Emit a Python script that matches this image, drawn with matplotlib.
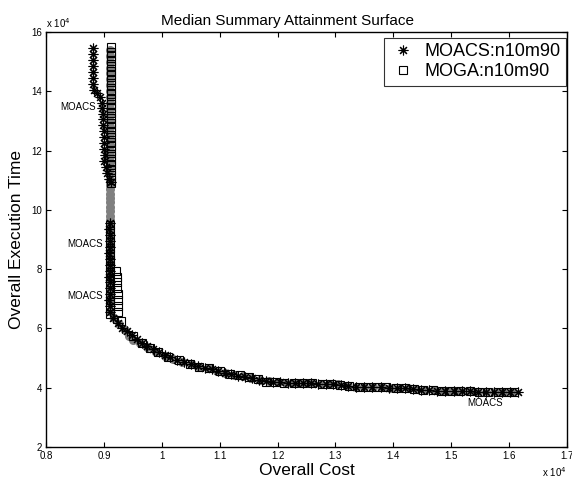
import matplotlib
matplotlib.use("Agg")
import matplotlib.pyplot as plt
import numpy as np

plt.rcParams['font.family'] = ['Liberation Sans', 'DejaVu Sans']

# values, in units of 1e4
moacs_x = [0.882, 0.881, 0.882, 0.881, 0.882, 0.881, 0.882, 0.883,
           0.888, 0.893, 0.896,
           0.897, 0.898, 0.899, 0.899, 0.900, 0.900, 0.901, 0.901, 0.902, 0.901, 0.903, 0.905, 0.908, 0.912,
           0.910, 0.909, 0.910, 0.911, 0.910, 0.909, 0.910, 0.911, 0.910, 0.909, 0.910, 0.911, 0.910, 0.909, 0.910, 0.911,
           0.915, 0.924, 0.932, 0.940, 0.948, 0.957, 0.966, 0.975, 0.985, 0.995, 1.005, 1.015, 1.027, 1.038,
           1.050, 1.062, 1.074, 1.086, 1.097, 1.109, 1.120, 1.132, 1.144, 1.156, 1.168, 1.180, 1.192, 1.205,
           1.218, 1.231, 1.244, 1.257, 1.270, 1.283, 1.296, 1.309, 1.322, 1.336, 1.350, 1.364, 1.378, 1.392,
           1.406, 1.420, 1.434, 1.448, 1.462, 1.476, 1.490, 1.504, 1.518, 1.532, 1.546, 1.560, 1.574, 1.588,
           1.602, 1.615]
moacs_y = [15.45, 15.25, 15.05, 14.85, 14.65, 14.45, 14.25, 14.05,
           13.95, 13.80, 13.60,
           13.45, 13.25, 13.05, 12.85, 12.65, 12.45, 12.25, 12.05, 11.85, 11.65, 11.45, 11.25, 11.05, 10.95,
           9.55, 9.35, 9.15, 8.95, 8.75, 8.55, 8.35, 8.15, 7.95, 7.75, 7.55, 7.35, 7.15, 6.95, 6.75, 6.55,
           6.35, 6.20, 6.02, 5.90, 5.78, 5.65, 5.52, 5.42, 5.32, 5.20, 5.10, 5.02, 4.95, 4.88,
           4.80, 4.72, 4.68, 4.64, 4.56, 4.50, 4.45, 4.41, 4.37, 4.32, 4.27, 4.22, 4.20, 4.18,
           4.17, 4.16, 4.15, 4.15, 4.14, 4.13, 4.12, 4.10, 4.05, 4.04, 4.03, 4.02, 4.01, 4.00,
           3.99, 3.98, 3.96, 3.92, 3.91, 3.90, 3.90, 3.89, 3.88, 3.88, 3.87, 3.86, 3.86, 3.85,
           3.85, 3.84]

moga_x = [0.912, 0.912, 0.912, 0.912, 0.912, 0.912, 0.912, 0.912, 0.912, 0.912,
          0.912, 0.912, 0.912, 0.912, 0.912, 0.912, 0.912, 0.912, 0.912, 0.912,
          0.912, 0.912, 0.912, 0.912, 0.912, 0.912, 0.912, 0.912, 0.912, 0.912,
          0.910, 0.910, 0.910, 0.910, 0.910, 0.910, 0.910, 0.910, 0.910, 0.910, 0.910, 0.910, 0.910, 0.910, 0.910, 0.910,
          0.921, 0.922, 0.922, 0.923, 0.924, 0.924, 0.924, 0.924,
          0.930, 0.950, 0.966, 0.980, 0.994, 1.010, 1.030, 1.048, 1.064, 1.082, 1.100, 1.118, 1.135, 1.150,
          1.166, 1.180, 1.196, 1.212, 1.228, 1.244, 1.260, 1.276, 1.292, 1.308, 1.324, 1.340, 1.356, 1.372,
          1.388, 1.404, 1.420, 1.436, 1.452, 1.468, 1.484, 1.500, 1.516, 1.532, 1.548, 1.564, 1.580, 1.596,
          1.608]
moga_y = [15.50, 15.34, 15.18, 15.02, 14.86, 14.70, 14.54, 14.38, 14.22, 14.06,
          13.90, 13.74, 13.58, 13.42, 13.26, 13.10, 12.94, 12.78, 12.62, 12.46,
          12.30, 12.14, 11.98, 11.82, 11.66, 11.50, 11.34, 11.18, 11.02, 10.90,
          9.50, 9.30, 9.10, 8.90, 8.70, 8.50, 8.30, 8.10, 7.90, 7.70, 7.50, 7.30, 7.10, 6.90, 6.70, 6.50,
          7.95, 7.75, 7.55, 7.35, 7.15, 6.95, 6.75, 6.55,
          6.25, 5.75, 5.50, 5.35, 5.20, 5.02, 4.95, 4.80, 4.70, 4.66, 4.55, 4.47, 4.42, 4.36,
          4.30, 4.20, 4.18, 4.17, 4.16, 4.15, 4.15, 4.14, 4.13, 4.10, 4.05, 4.04, 4.03, 4.02,
          4.01, 4.00, 3.98, 3.95, 3.92, 3.91, 3.90, 3.90, 3.89, 3.88, 3.87, 3.87, 3.86, 3.86,
          3.86]

# grey median surface points
med_x = [0.911, 0.911, 0.911, 0.911, 0.911, 0.911, 0.911, 0.911, 0.911, 0.911, 0.911, 0.911,
         0.911, 0.911, 0.911, 0.911, 0.911, 0.911, 0.911, 0.911, 0.911, 0.911, 0.911, 0.911,
         0.910, 0.910, 0.910, 0.910, 0.910, 0.910, 0.910, 0.910, 0.910, 0.910,
         0.910, 0.910, 0.910, 0.910, 0.910, 0.910, 0.910, 0.910, 0.910, 0.910, 0.910, 0.910, 0.910,
         0.918, 0.926, 0.936, 0.944, 0.950, 0.962, 0.975, 0.990, 1.005, 1.020, 1.035, 1.050, 1.065,
         1.080, 1.095, 1.110, 1.125, 1.140, 1.155, 1.170, 1.185, 1.200, 1.215, 1.230, 1.245, 1.260,
         1.275, 1.290, 1.305, 1.320, 1.335, 1.350, 1.365, 1.380, 1.395, 1.410, 1.425, 1.440, 1.455,
         1.470, 1.485, 1.500, 1.515, 1.530, 1.545, 1.560, 1.575, 1.590, 1.605]
med_y = [15.40, 15.20, 15.00, 14.80, 14.60, 14.40, 14.20, 14.00, 13.80, 13.60, 13.40, 13.20,
         13.00, 12.80, 12.60, 12.40, 12.20, 12.00, 11.80, 11.60, 11.40, 11.20, 11.00, 10.85,
         10.70, 10.55, 10.40, 10.25, 10.10, 9.95, 9.80, 9.65, 9.50, 9.30,
         9.10, 8.90, 8.70, 8.50, 8.30, 8.10, 7.90, 7.70, 7.50, 7.30, 7.10, 6.90, 6.60,
         6.35, 6.15, 5.95, 5.75, 5.62, 5.50, 5.38, 5.22, 5.08, 4.97, 4.88, 4.80, 4.71,
         4.66, 4.58, 4.50, 4.44, 4.38, 4.32, 4.26, 4.21, 4.18, 4.17, 4.16, 4.15, 4.15,
         4.14, 4.13, 4.11, 4.05, 4.04, 4.03, 4.02, 4.01, 4.00, 3.99, 3.98, 3.94, 3.92,
         3.91, 3.90, 3.90, 3.89, 3.88, 3.87, 3.86, 3.86, 3.85, 3.85]

xticks = [0.8, 0.9, 1.0, 1.1, 1.2, 1.3, 1.4, 1.5, 1.6, 1.7]
xtick_labels = ['0.8', '0.9', '1', '1.1', '1.2', '1.3', '1.4', '1.5', '1.6', '1.7']
yticks = [2, 4, 6, 8, 10, 12, 14, 16]

fig = plt.figure(figsize=(5.72, 4.79), dpi=100)
ax = fig.add_axes([0.0804, 0.0668, 0.9108, 0.8664])

ax.plot(med_x, med_y, linestyle='none', marker='o', ms=5.5,
        mfc='#808080', mec='#808080', zorder=1)
ax.plot(moacs_x, moacs_y, linestyle='none', marker=(8, 2, 0), ms=7,
        mec='black', mew=0.8, label='MOACS:n10m90', zorder=3)
ax.plot(moga_x, moga_y, linestyle='none', marker='s', ms=5.8,
        mfc='none', mec='black', mew=0.8, label='MOGA:n10m90', zorder=2)

# point labels
ax.text(0.886, 13.47, 'MOACS', fontsize=7, ha='right', va='center')
ax.text(0.898, 8.85, 'MOACS', fontsize=7, ha='right', va='center')
ax.text(0.898, 7.10, 'MOACS', fontsize=7, ha='right', va='center')
ax.text(1.558, 3.49, 'MOACS', fontsize=7, ha='center', va='center')

ax.set_xlim(0.8, 1.7)
ax.set_ylim(2, 16)
ax.set_xticks(xticks)
ax.set_xticklabels(xtick_labels)
ax.set_yticks(yticks)
ax.tick_params(direction='in', top=True, right=True, labelsize=7, length=3.5, width=0.8, pad=3)
for s in ax.spines.values():
    s.set_linewidth(1.0)

ax.text(0.0, 1.005, r'x 10$^{4}$', transform=ax.transAxes, fontsize=7, ha='left', va='bottom')
ax.text(1.0, -0.043, r'x 10$^{4}$', transform=ax.transAxes, fontsize=7, ha='right', va='top')

ax.set_title('Median Summary Attainment Surface', fontsize=11, pad=5, x=0.4635)
ax.set_xlabel('Overall Cost', fontsize=12.5, labelpad=1)
ax.set_ylabel('Overall Execution Time', fontsize=12.5, labelpad=5)

leg = ax.legend(loc='upper right', bbox_to_anchor=(0.998, 0.9855), fontsize=13,
                frameon=True, fancybox=False, edgecolor='black', borderaxespad=0,
                handletextpad=0.45, borderpad=0.3, labelspacing=0.15, handlelength=1.5)
leg.get_frame().set_linewidth(0.8)

fig.savefig('out.png', dpi=100)
